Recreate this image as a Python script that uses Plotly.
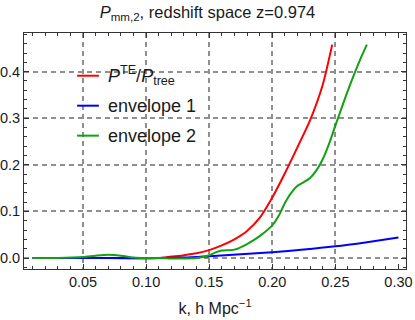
import plotly.graph_objects as go

# data
k_red = [0.01, 0.03, 0.05, 0.07, 0.09, 0.10, 0.11, 0.12, 0.13, 0.14, 0.15, 0.16,
         0.17, 0.18, 0.19, 0.20, 0.21, 0.22, 0.23, 0.24, 0.2475]
p_red = [0.0, 0.0, 0.0, 0.0, -0.001, -0.001, 0.0, 0.003, 0.006, 0.010, 0.017, 0.027,
         0.040, 0.058, 0.086, 0.130, 0.182, 0.238, 0.296, 0.372, 0.458]

k_blue = [0.01, 0.05, 0.10, 0.13, 0.15, 0.175, 0.20, 0.225, 0.25, 0.275, 0.30]
p_blue = [0.0, 0.0, 0.0, 0.001, 0.004, 0.008, 0.0125, 0.018, 0.025, 0.034, 0.044]

k_green = [0.01, 0.03, 0.05, 0.06, 0.07, 0.08, 0.09, 0.10, 0.11, 0.12, 0.13, 0.14,
           0.15, 0.155, 0.16, 0.17, 0.18, 0.19, 0.20, 0.205, 0.21, 0.215, 0.22,
           0.225, 0.23, 0.235, 0.24, 0.245, 0.25, 0.26, 0.27, 0.275]
p_green = [0.0, 0.0, 0.002, 0.005, 0.007, 0.005, 0.001, 0.0, 0.0, -0.001, -0.001, 0.0,
           0.006, 0.012, 0.016, 0.018, 0.030, 0.047, 0.070, 0.090, 0.118, 0.140, 0.155,
           0.163, 0.172, 0.188, 0.212, 0.245, 0.284, 0.360, 0.428, 0.458]

x_ticks = [0.05, 0.10, 0.15, 0.20, 0.25, 0.30]
y_ticks = [0.0, 0.1, 0.2, 0.3, 0.4]
x_grid = [0.05, 0.10, 0.15, 0.20, 0.25]

names = ["<i>P</i><sup>TE</sup>/<i>P</i><sub>tree</sub>", "envelope 1", "envelope 2"]
colors = ["#ff0000", "#0000ff", "#13a013"]

FONT = "Liberation Sans, Arial, sans-serif"
X_RANGE = [0.0032, 0.306]
Y_RANGE = [-0.0236, 0.483]
GRID = dict(showgrid=True, gridcolor="#8f8f8f", gridwidth=1.5, griddash="5px,4px")
FRAME = dict(zeroline=False, showline=True, linecolor="#333", linewidth=1,
             mirror="ticks", ticks="inside", ticklen=5, tickcolor="#333", automargin=False)

fig = go.Figure()
# red and blue on the main x axis (carries the vertical grid), green on the overlaying
# x2 axis (carries frame, ticks, labels) -- green is drawn on top, as in the reference
series = [(k_red, p_red, colors[0], "x"), (k_blue, p_blue, colors[1], "x"),
          (k_green, p_green, colors[2], "x2")]
for kk, pp, c, xa in series:
    fig.add_trace(go.Scatter(x=kk, y=pp, mode="lines", xaxis=xa, yaxis="y",
                             line=dict(color=c, width=2, shape="spline", smoothing=0.7),
                             showlegend=False, hoverinfo="skip"))

# hand-made legend
for i, (nm, c) in enumerate(zip(names, colors)):
    yy = 0.819 - i * 0.127
    fig.add_shape(type="line", xref="paper", yref="paper", x0=0.139, x1=0.196, y0=yy, y1=yy,
                  line=dict(color=c, width=2))
    fig.add_annotation(x=0.215, y=yy, xref="paper", yref="paper", text=nm, showarrow=False,
                       xanchor="left", yanchor="middle", font=dict(size=18, color="#1a1a1a"))

fig.update_layout(
    width=415, height=320,
    margin=dict(l=24, r=9, t=33, b=51, autoexpand=False),
    paper_bgcolor="white", plot_bgcolor="white",
    font=dict(family=FONT, color="#1a1a1a"),
    title=dict(text="<i>P</i><sub>mm,2</sub>, redshift space z=0.974",
               x=0.5, xanchor="center", y=0.962, yanchor="middle", font=dict(size=16.5)),
    xaxis=dict(range=X_RANGE, tickvals=x_grid, showticklabels=False, ticks="",
               zeroline=False, showline=False, automargin=False, **GRID),
    xaxis2=dict(range=X_RANGE, overlaying="x", anchor="y", side="bottom", showgrid=False,
                tickvals=x_ticks, tickformat=".2f", tickfont=dict(size=14.5),
                minor=dict(dtick=0.01, tick0=0, ticks="inside", ticklen=3, tickcolor="#333"),
                title=dict(text="k, h Mpc<sup>−1</sup>", font=dict(size=16), standoff=13),
                **FRAME),
    yaxis=dict(range=Y_RANGE, tickvals=y_ticks, tickformat=".1f", tickfont=dict(size=14.5),
               minor=dict(dtick=0.02, tick0=0, ticks="inside", ticklen=3, tickcolor="#333"),
               **GRID, **FRAME),
)

fig.write_html("out.html", config={"displayModeBar": False},
               post_script="document.body.style.margin='0';")
